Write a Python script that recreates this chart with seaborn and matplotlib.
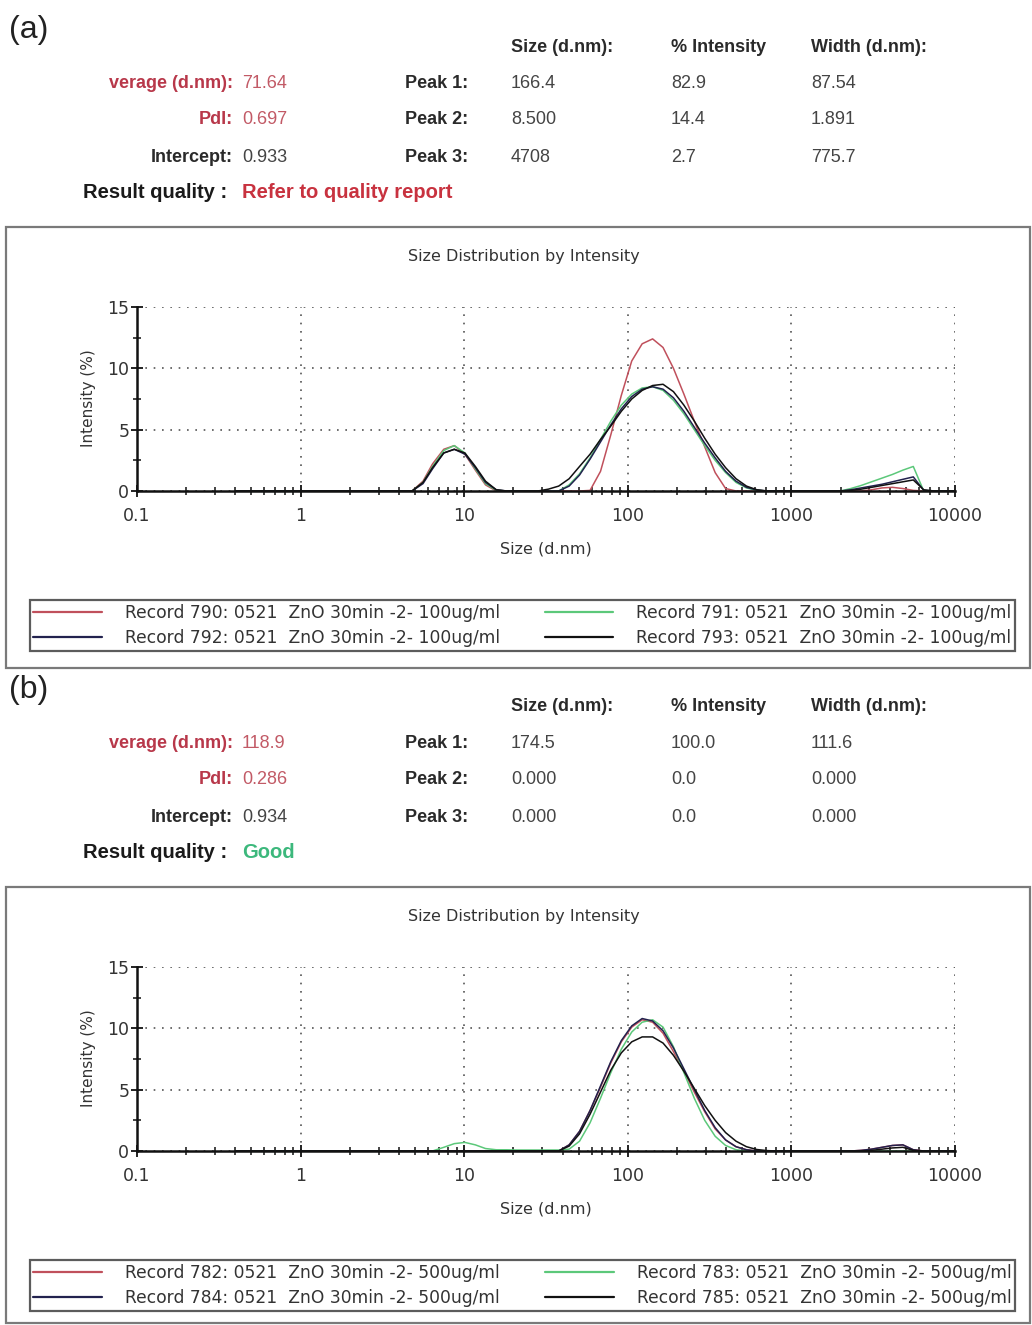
import matplotlib
matplotlib.use("Agg")
import matplotlib.pyplot as plt
import seaborn as sns
import numpy as np
from matplotlib.patches import Rectangle
from matplotlib.ticker import FixedLocator, NullFormatter

# ---------------- data ----------------
SIZES = [0.4, 0.46, 0.54, 0.62, 0.72, 0.83, 0.96, 1.1, 1.3, 1.5,
         1.7, 2.0, 2.3, 2.7, 3.1, 3.6, 4.1, 4.8, 5.6, 6.4,
         7.5, 8.7, 10.1, 11.7, 13.5, 15.7, 18.2, 21.0, 24.4, 28.2,
         32.7, 37.8, 43.8, 50.7, 58.8, 68.1, 78.8, 91.3, 105.7, 122.4,
         141.8, 164.2, 190.1, 220.2, 255.0, 295.3, 342.0, 396.1, 458.7, 531.2,
         615.1, 712.4, 825.0, 955.4, 1106, 1281, 1484, 1718, 1990, 2305,
         2669, 3091, 3580, 4145, 4801, 5560, 6439, 7456, 8635, 10000]

A_790 = [0, 0, 0, 0, 0, 0, 0, 0, 0, 0,
         0, 0, 0, 0, 0, 0, 0, 0, 0.8, 2.2,
         3.4, 3.7, 3.0, 1.7, 0.5, 0, 0, 0, 0, 0,
         0, 0, 0, 0, 0.05, 1.6, 4.6, 7.8, 10.6, 12.0,
         12.4, 11.7, 10.0, 7.9, 5.7, 3.6, 1.5, 0.2, 0, 0,
         0, 0, 0, 0, 0, 0, 0, 0, 0, 0,
         0, 0.1, 0.25, 0.3, 0.2, 0.05, 0, 0, 0, 0]
A_791 = [0, 0, 0, 0, 0, 0, 0, 0, 0, 0,
         0, 0, 0, 0, 0, 0, 0, 0, 0.7, 2.0,
         3.3, 3.7, 3.1, 1.8, 0.6, 0.05, 0, 0, 0, 0,
         0, 0, 0.5, 1.4, 2.7, 4.2, 5.7, 7.0, 7.9, 8.4,
         8.5, 8.2, 7.4, 6.3, 5.0, 3.7, 2.5, 1.5, 0.7, 0.25,
         0.05, 0, 0, 0, 0, 0, 0, 0, 0, 0.2,
         0.45, 0.75, 1.05, 1.35, 1.7, 2.0, 0, 0, 0, 0]
A_792 = [0, 0, 0, 0, 0, 0, 0, 0, 0, 0,
         0, 0, 0, 0, 0, 0, 0, 0, 0.6, 1.8,
         3.1, 3.4, 3.0, 1.9, 0.7, 0.1, 0, 0, 0, 0,
         0, 0, 0.4, 1.3, 2.6, 4.0, 5.4, 6.7, 7.7, 8.3,
         8.5, 8.3, 7.6, 6.5, 5.2, 3.9, 2.7, 1.6, 0.8, 0.3,
         0.08, 0, 0, 0, 0, 0, 0, 0, 0, 0.1,
         0.25, 0.4, 0.55, 0.75, 0.95, 1.15, 0.05, 0, 0, 0]
A_793 = [0, 0, 0, 0, 0, 0, 0, 0, 0, 0,
         0, 0, 0, 0, 0, 0, 0, 0, 0.7, 1.9,
         3.1, 3.4, 3.1, 2.0, 0.8, 0.1, 0, 0, 0, 0,
         0.15, 0.4, 1.0, 2.0, 3.0, 4.2, 5.3, 6.5, 7.5, 8.2,
         8.6, 8.7, 8.1, 7.0, 5.7, 4.3, 3.0, 1.9, 1.0, 0.4,
         0.1, 0, 0, 0, 0, 0, 0, 0, 0, 0.05,
         0.15, 0.3, 0.45, 0.6, 0.75, 0.9, 0.1, 0, 0, 0]

B_782 = [0, 0, 0, 0, 0, 0, 0, 0, 0, 0,
         0, 0, 0, 0, 0, 0, 0, 0, 0, 0,
         0, 0, 0, 0, 0, 0, 0, 0, 0, 0,
         0, 0, 0.5, 1.6, 3.3, 5.2, 7.2, 8.9, 10.1, 10.7,
         10.5, 9.6, 8.1, 6.5, 4.8, 3.2, 1.8, 0.9, 0.35, 0.1,
         0, 0, 0, 0, 0, 0, 0, 0, 0, 0,
         0.05, 0.15, 0.3, 0.45, 0.5, 0.1, 0, 0, 0, 0]
B_783 = [0, 0, 0, 0, 0, 0, 0, 0, 0, 0,
         0, 0, 0, 0, 0, 0, 0, 0, 0, 0,
         0.3, 0.6, 0.7, 0.5, 0.2, 0.1, 0.1, 0.08, 0.08, 0.08,
         0.08, 0.08, 0.15, 0.8, 2.3, 4.3, 6.4, 8.3, 9.7, 10.5,
         10.7, 10.1, 8.5, 6.4, 4.3, 2.5, 1.2, 0.45, 0.1, 0,
         0, 0, 0, 0, 0, 0, 0, 0, 0, 0,
         0, 0, 0, 0, 0, 0, 0, 0, 0, 0]
B_784 = [0, 0, 0, 0, 0, 0, 0, 0, 0, 0,
         0, 0, 0, 0, 0, 0, 0, 0, 0, 0,
         0, 0, 0, 0, 0, 0, 0, 0, 0, 0,
         0, 0, 0.5, 1.6, 3.3, 5.3, 7.3, 9.0, 10.2, 10.8,
         10.6, 9.8, 8.4, 6.7, 5.0, 3.3, 1.9, 0.9, 0.35, 0.1,
         0, 0, 0, 0, 0, 0, 0, 0, 0, 0,
         0.05, 0.15, 0.3, 0.45, 0.5, 0.1, 0, 0, 0, 0]
B_785 = [0, 0, 0, 0, 0, 0, 0, 0, 0, 0,
         0, 0, 0, 0, 0, 0, 0, 0, 0, 0,
         0, 0, 0, 0, 0, 0, 0, 0, 0, 0,
         0, 0, 0.4, 1.4, 3.0, 4.8, 6.6, 8.0, 8.9, 9.3,
         9.3, 8.8, 7.8, 6.5, 5.1, 3.7, 2.5, 1.5, 0.8, 0.35,
         0.12, 0.03, 0, 0, 0, 0, 0, 0, 0, 0,
         0, 0.05, 0.15, 0.25, 0.3, 0.05, 0, 0, 0, 0]

LABELS_A = ["Record 790: 0521  ZnO 30min -2- 100ug/ml",
            "Record 791: 0521  ZnO 30min -2- 100ug/ml",
            "Record 792: 0521  ZnO 30min -2- 100ug/ml",
            "Record 793: 0521  ZnO 30min -2- 100ug/ml"]
LABELS_B = ["Record 782: 0521  ZnO 30min -2- 500ug/ml",
            "Record 783: 0521  ZnO 30min -2- 500ug/ml",
            "Record 784: 0521  ZnO 30min -2- 500ug/ml",
            "Record 785: 0521  ZnO 30min -2- 500ug/ml"]

X_TICKS = [0.1, 1, 10, 100, 1000, 10000]
X_TICK_LABELS = ["0.1", "1", "10", "100", "1000", "10000"]
Y_TICKS = [0, 5, 10, 15]

HEAD_COLS = ["Size (d.nm):", "% Intensity", "Width (d.nm):"]
PEAK_LABELS = ["Peak 1:", "Peak 2:", "Peak 3:"]
SUMMARY_LABELS = ["verage (d.nm):", "PdI:", "Intercept:"]
A_SUMMARY = ["71.64", "0.697", "0.933"]
A_PEAKS = [["166.4", "82.9", "87.54"], ["8.500", "14.4", "1.891"], ["4708", "2.7", "775.7"]]
A_QUALITY = "Refer to quality report"
B_SUMMARY = ["118.9", "0.286", "0.934"]
B_PEAKS = [["174.5", "100.0", "111.6"], ["0.000", "0.0", "0.000"], ["0.000", "0.0", "0.000"]]
B_QUALITY = "Good"

COLORS = ["#c0505c", "#5cc87a", "#22224e", "#111111"]

# ---------------- figure ----------------
sns.set_style("white")
plt.rcParams['font.family'] = ['DejaVu Sans']

W, H = 1032, 1325
fig = plt.figure(figsize=(W / 100, H / 100), dpi=100)
fig.patch.set_facecolor("white")


def fx(x):
    return x / W


def fy(y):
    return 1 - y / H


HEAD_FONT = ['Liberation Sans', 'DejaVu Sans']
DARK = "#2a2a2a"
VAL = "#444444"
RED_L = "#b8384a"
RED_V = "#c25a66"
FS = 13


def header(off, tag, summary, peaks, quality, qcolor):
    fig.text(fx(9), fy(30 + off), tag, fontsize=23, family=HEAD_FONT,
             color="#222222", ha="left", va="center")
    for cx, t in zip([511, 671, 811], HEAD_COLS):
        fig.text(fx(cx), fy(47 + off), t, fontsize=FS, fontweight="bold",
                 family=HEAD_FONT, color=DARK, ha="left", va="center")
    for i, ry in enumerate([84, 120, 157]):
        lc = RED_L if i < 2 else DARK
        vc = RED_V if i < 2 else VAL
        fig.text(fx(233), fy(ry + off), SUMMARY_LABELS[i], fontsize=FS,
                 fontweight="bold", family=HEAD_FONT, color=lc, ha="right", va="center")
        fig.text(fx(242), fy(ry + off), summary[i], fontsize=FS,
                 family=HEAD_FONT, color=vc, ha="left", va="center")
        fig.text(fx(405), fy(ry + off), PEAK_LABELS[i], fontsize=FS,
                 fontweight="bold", family=HEAD_FONT, color=DARK, ha="left", va="center")
        for cx, t in zip([511, 671, 811], peaks[i]):
            fig.text(fx(cx), fy(ry + off), t, fontsize=FS, family=HEAD_FONT,
                     color=VAL, ha="left", va="center")
    fig.text(fx(227), fy(192 + off), "Result quality :", fontsize=14.5,
             fontweight="bold", family=HEAD_FONT, color="#1a1a1a", ha="right", va="center")
    fig.text(fx(242), fy(192 + off), quality, fontsize=14.5, fontweight="bold",
             family=HEAD_FONT, color=qcolor, ha="left", va="center")


def panel(off, frame_bottom, series, labels):
    # outer frame
    fig.patches.append(Rectangle((fx(6), fy(frame_bottom)), fx(1024),
                                 (frame_bottom - (227 + off)) / H,
                                 transform=fig.transFigure, fill=False,
                                 ec="#7a7a7a", lw=1.6))
    fig.text(fx(524), fy(257 + off), "Size Distribution by Intensity",
             fontsize=11.5, color="#333333", ha="center", va="center")
    ax = fig.add_axes([fx(137), fy(491 + off), 818 / W, 184 / H])
    ax.set_xscale("log")
    lines = []
    for vals, c, lab in zip(series, COLORS, labels):
        sns.lineplot(x=SIZES, y=vals, ax=ax, color=c, linewidth=1.1,
                     estimator=None, sort=False, label=lab)
        lines.append(ax.get_lines()[-1])
    ax.set_xlim(0.1, 10000)
    ax.set_ylim(0, 15)
    ax.xaxis.set_major_locator(FixedLocator(X_TICKS))
    ax.set_xticklabels(X_TICK_LABELS)
    ax.xaxis.set_minor_locator(FixedLocator(
        [m * d for d in [0.1, 1, 10, 100, 1000] for m in range(2, 10)]))
    ax.xaxis.set_minor_formatter(NullFormatter())
    ax.yaxis.set_major_locator(FixedLocator(Y_TICKS))
    ax.yaxis.set_minor_locator(FixedLocator([2.5, 7.5, 12.5]))
    ax.tick_params(which="both", bottom=True, left=True, top=False, right=False)
    ax.tick_params(which="major", direction="inout", length=9, width=1.3,
                   color="#111111", labelsize=12.5, labelcolor="#333333")
    ax.tick_params(which="minor", direction="inout", length=6, width=1.1,
                   color="#111111")
    ax.tick_params(axis="x", which="major", pad=7)
    ax.tick_params(axis="y", which="major", pad=1)
    for s in ["top", "right"]:
        ax.spines[s].set_visible(False)
    for s in ["left", "bottom"]:
        ax.spines[s].set_color("#111111")
        ax.spines[s].set_linewidth(1.8)
    ax.grid(True, which="major", color="#555555", linestyle=(0, (1, 4)),
            linewidth=1.2)
    ax.set_axisbelow(True)
    ax.patch.set_alpha(0)
    ax.set_xlabel("Size (d.nm)", fontsize=11.5, color="#333333")
    ax.xaxis.set_label_coords(0.5, (491 - 541) / 184)
    ax.set_ylabel("Intensity (%)", fontsize=11, color="#333333")
    ax.yaxis.set_label_coords((96 - 137) / 818, 0.505)
    order = [0, 2, 1, 3]
    leg = ax.legend([lines[i] for i in order], [labels[i] for i in order],
                    ncol=2, loc="center",
                    bbox_to_anchor=(fx(30), fy(652 + off), 985 / W, 53 / H),
                    bbox_transform=fig.transFigure, mode="expand",
                    frameon=True, fancybox=False, edgecolor="#333333",
                    handlelength=4.0, handletextpad=1.35, columnspacing=3.0,
                    borderaxespad=0, borderpad=0.2, labelspacing=0.42,
                    fontsize=12.3)
    leg.get_frame().set_linewidth(1.6)
    for t in leg.get_texts():
        t.set_color("#333333")
    for l in leg.get_lines():
        l.set_linewidth(1.6)
    return ax


header(0, "(a)", A_SUMMARY, A_PEAKS, A_QUALITY, "#c8323f")
panel(0, 668, [A_790, A_791, A_792, A_793], LABELS_A)
header(660, "(b)", B_SUMMARY, B_PEAKS, B_QUALITY, "#3cb87c")
panel(660, 1323, [B_782, B_783, B_784, B_785], LABELS_B)

fig.savefig("out.png", dpi=100, facecolor="white")
